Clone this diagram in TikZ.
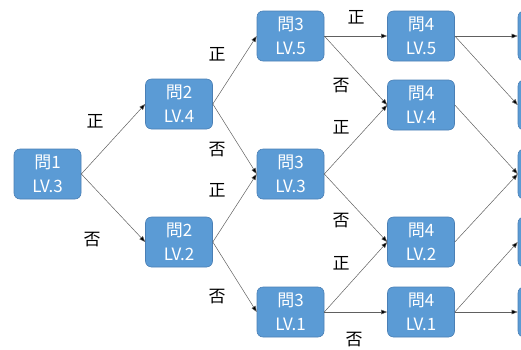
\documentclass[tikz,border=0pt]{standalone}
\usepackage{fontspec}
\setmainfont{Noto Sans CJK JP}
\usetikzlibrary{arrows.meta}
\definecolor{boxfill}{HTML}{5B9BD5}
\definecolor{boxline}{HTML}{4A7FB5}
\definecolor{edgecol}{HTML}{606060}
\begin{document}
\begin{tikzpicture}[x=1pt,y=-1pt,
  qbox/.style={draw=boxline,line width=0.6pt,fill=boxfill,rounded corners=6pt,
    minimum width=67pt,minimum height=50pt,inner sep=0pt,text=white,
    align=center,font=\fontsize{17}{24}\selectfont},
  edge/.style={draw=edgecol,line width=0.5pt,-{Triangle[length=6pt,width=4.5pt,fill=black]}},
  lab/.style={font=\fontsize{17}{18}\selectfont,text=black,inner sep=0pt}]
\useasboundingbox (0,0) rectangle (521,349);
\node[qbox] (q1) at (47.5,174) {問1\\LV.3};
\node[qbox] (q2a) at (179,104) {問2\\LV.4};
\node[qbox] (q2b) at (179,242) {問2\\LV.2};
\node[qbox] (q3a) at (290.5,36) {問3\\LV.5};
\node[qbox] (q3b) at (290.5,174) {問3\\LV.3};
\node[qbox] (q3c) at (290.5,312) {問3\\LV.1};
\node[qbox] (q4a) at (421,36) {問4\\LV.5};
\node[qbox] (q4b) at (421,105) {問4\\LV.4};
\node[qbox] (q4c) at (421,242) {問4\\LV.2};
\node[qbox] (q4d) at (421,312) {問4\\LV.1};
\node[qbox] (r1) at (551.5,36) {};
\node[qbox] (r2) at (551.5,105) {};
\node[qbox] (r3) at (551.5,174) {};
\node[qbox] (r4) at (551.5,242) {};
\node[qbox] (r5) at (551.5,312) {};
\draw[edge] (q1.east) -- (q2a.west);
\draw[edge] (q1.east) -- (q2b.west);
\draw[edge] (q2a.east) -- (q3a.west);
\draw[edge] (q2a.east) -- (q3b.west);
\draw[edge] (q2b.east) -- (q3b.west);
\draw[edge] (q2b.east) -- (q3c.west);
\draw[edge] (q3a.east) -- (q4a.west);
\draw[edge] (q3a.east) -- (q4b.west);
\draw[edge] (q3b.east) -- (q4b.west);
\draw[edge] (q3b.east) -- (q4c.west);
\draw[edge] (q3c.east) -- (q4c.west);
\draw[edge] (q3c.east) -- (q4d.west);
\draw[edge] (q4a.east) -- (r1.west);
\draw[edge] (q4a.east) -- (r2.west);
\draw[edge] (q4b.east) -- (r3.west);
\draw[edge] (q4c.east) -- (r3.west);
\draw[edge] (q4d.east) -- (r4.west);
\draw[edge] (q4d.east) -- (r5.west);
\node[lab] (l1) at (95,121) {正};
\node[lab] (l2) at (92,240) {否};
\node[lab] (l3) at (217,54) {正};
\node[lab] (l4) at (217,150) {否};
\node[lab] (l5) at (217,190) {正};
\node[lab] (l6) at (217,297) {否};
\node[lab] (l7) at (356,17) {正};
\node[lab] (l8) at (341,86) {否};
\node[lab] (l9) at (341,127) {正};
\node[lab] (l10) at (341,221) {否};
\node[lab] (l11) at (341,263) {正};
\node[lab] (l12) at (354,340) {否};
\end{tikzpicture}
\end{document}
